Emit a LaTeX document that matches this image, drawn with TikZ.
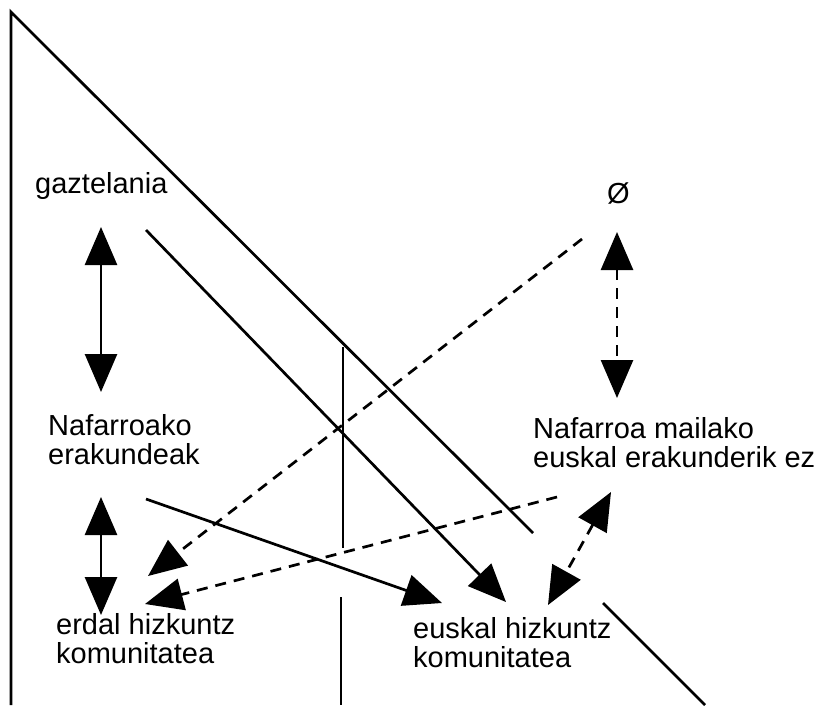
\documentclass[tikz,border=0pt]{standalone}
\usepackage{fontspec}
\setmainfont{Liberation Sans}
\usetikzlibrary{arrows.meta}
\begin{document}
\begin{tikzpicture}[x=1pt,y=-1pt,
  rule/.style={line width=2.7pt, line join=miter},
  head/.tip={Triangle[length=38pt,width=32pt]},
  onearrow/.style={line width=2.7pt, -head},
  twoarrow/.style={line width=2.7pt, head-head},
  dashedline/.style={dash pattern=on 11pt off 8pt},
  lbl/.style={inner sep=0pt, anchor=base west, align=left,
    font=\fontsize{29}{29}\selectfont}]
  \useasboundingbox (0,0) rectangle (821,705);

  % frame: left edge and the long diagonal (broken near the bottom right)
  \draw[rule] (11,705) -- (11,12) -- (533,533);
  \draw[rule] (603,603) -- (705,705);
  % dividing line in the middle
  \draw[rule] (343,347) -- (343,548);
  \draw[rule] (341,597) -- (341,705);

  % labels (two-line labels are placed by the baseline of their last line)
  \node[lbl] (gaz) at (35,193) {gaztelania};
  \node[lbl] (ez) at (607,203) {Ø};
  \node[lbl] (naf) at (48,464) {Nafarroako\\erakundeak};
  \node[lbl] (nafez) at (533,467) {Nafarroa mailako\\euskal erakunderik ez};
  \node[lbl] (erdal) at (56,663) {erdal hizkuntz\\komunitatea};
  \node[lbl] (euskal) at (413,667) {euskal hizkuntz\\komunitatea};

  % connector end points
  \coordinate (gazS) at (101,227);
  \coordinate (nafN) at (101,392);
  \coordinate (nafS) at (101,497);
  \coordinate (erdN) at (101,615);
  \coordinate (nafE) at (146,230);
  \coordinate (nafE2) at (146,499);
  \coordinate (eusA) at (442,603);
  \coordinate (eusB) at (506,602);
  \coordinate (eusC) at (548,605);
  \coordinate (ezW) at (582,239);
  \coordinate (ezS) at (617,232);
  \coordinate (nfzN) at (617,398);
  \coordinate (nfzW) at (557,497);
  \coordinate (nfzS) at (611,492);
  \coordinate (erdA) at (148,576);
  \coordinate (erdB) at (145,604);

  % solid connectors
  \draw[twoarrow] (gazS) -- (nafN);
  \draw[twoarrow] (nafS) -- (erdN);
  \draw[onearrow] (nafE) -- (eusB);
  \draw[onearrow] (nafE2) -- (eusA);

  % dashed connectors
  \draw[twoarrow,dashedline] (ezS) -- (nfzN);
  \draw[twoarrow,dashedline] (nfzS) -- (eusC);
  \draw[onearrow,dashedline] (ezW) -- (erdA);
  \draw[onearrow,dashedline] (nfzW) -- (erdB);
\end{tikzpicture}
\end{document}
